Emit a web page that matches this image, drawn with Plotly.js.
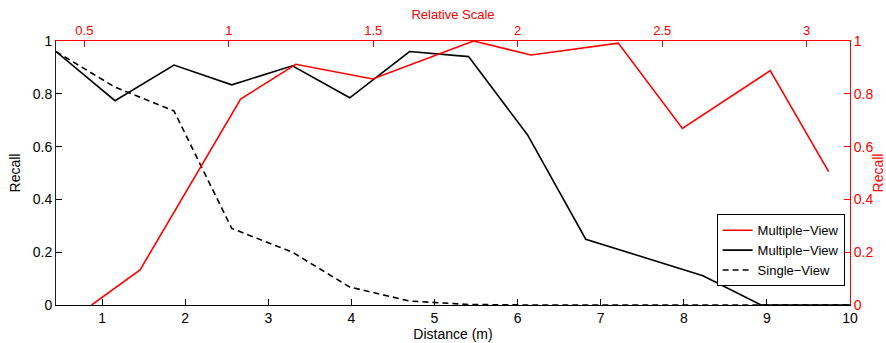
<!DOCTYPE html>
<html>
<head>
<meta charset="utf-8">
<script src="https://cdn.plot.ly/plotly-3.0.1.min.js"></script>
<style>
html, body { margin: 0; padding: 0; background: #fff; }
#chart { width: 886px; height: 343px; }
</style>
</head>
<body>
<div id="chart"></div>
<script>
// Bottom axis: distance (m)
var distMulti = [0.445, 1.155, 1.865, 2.56, 3.29, 3.98, 4.70, 5.41, 6.12, 6.82, 8.23, 8.93, 10];
var recallMultiBlack = [0.96, 0.774, 0.909, 0.834, 0.906, 0.785, 0.96, 0.941, 0.644, 0.249, 0.111, 0, 0];

var distSingle = [0.445, 1.155, 1.865, 2.56, 3.29, 3.98, 4.70, 5.41, 6.12, 10];
var recallSingle = [0.96, 0.825, 0.735, 0.29, 0.2, 0.068, 0.015, 0.002, 0, 0];

// Top axis: relative scale
var relScale = [0.525, 0.693, 1.041, 1.232, 1.498, 1.847, 2.046, 2.348, 2.57, 2.874, 3.076];
var recallMultiRed = [0, 0.133, 0.78, 0.912, 0.856, 1.0, 0.947, 0.992, 0.669, 0.888, 0.505];

var yTicks = [0, 0.2, 0.4, 0.6, 0.8, 1];
var yTickText = ['0', '0.2', '0.4', '0.6', '0.8', '1'];
var xTicks = [1, 2, 3, 4, 5, 6, 7, 8, 9, 10];
var x2Ticks = [0.5, 1, 1.5, 2, 2.5, 3];
var x2TickText = ['0.5', '1', '1.5', '2', '2.5', '3'];

var FONT = 'Liberation Sans, Arial, Helvetica, sans-serif';
var RED = '#ff0000';

var traces = [
  {
    x: relScale, y: recallMultiRed, xaxis: 'x2', yaxis: 'y2',
    type: 'scatter', mode: 'lines', name: 'Multiple\u2212View',
    line: { color: RED, width: 1.6 }
  },
  {
    x: distMulti, y: recallMultiBlack, xaxis: 'x', yaxis: 'y',
    type: 'scatter', mode: 'lines', name: 'Multiple\u2212View',
    line: { color: '#000', width: 1.6 }
  },
  {
    x: distSingle, y: recallSingle, xaxis: 'x', yaxis: 'y',
    type: 'scatter', mode: 'lines', name: 'Single\u2212View',
    line: { color: '#000', width: 1.6, dash: '6px,4px' }
  }
];

var layout = {
  width: 886, height: 343,
  margin: { l: 56, r: 36, t: 41, b: 38, pad: 0 },
  paper_bgcolor: '#fff', plot_bgcolor: '#fff',
  font: { family: FONT, size: 14, color: '#000' },
  showlegend: true,
  legend: {
    x: 0.832, y: 0.3436, xanchor: 'left', yanchor: 'top',
    bgcolor: '#fff', bordercolor: '#000', borderwidth: 1,
    font: { family: FONT, size: 13, color: '#000' },
    tracegroupgap: 0
  },
  xaxis: {
    range: [0.445, 10], tickvals: xTicks, ticktext: xTicks.map(String),
    ticks: 'inside', ticklen: 6, tickcolor: '#000', tickwidth: 1,
    showline: true, linecolor: '#000', linewidth: 1,
    showgrid: false, zeroline: false, mirror: false,
    tickfont: { family: FONT, size: 14, color: '#000' },
    title: { text: 'Distance (m)', font: { family: FONT, size: 14, color: '#000' }, standoff: 2 }
  },
  xaxis2: {
    overlaying: 'x', side: 'top', anchor: 'y2',
    range: [0.402, 3.15], tickvals: x2Ticks, ticktext: x2TickText,
    ticks: 'inside', ticklen: 6, tickcolor: RED, tickwidth: 1,
    showline: true, linecolor: RED, linewidth: 1,
    showgrid: false, zeroline: false,
    tickfont: { family: FONT, size: 13, color: RED },
    title: { text: 'Relative Scale', font: { family: FONT, size: 13, color: RED }, standoff: 0 }
  },
  yaxis: {
    range: [0, 1], tickvals: yTicks, ticktext: yTickText,
    ticks: 'inside', ticklen: 6, tickcolor: '#000', tickwidth: 1,
    showline: true, linecolor: '#222', linewidth: 1,
    showgrid: false, zeroline: false,
    tickfont: { family: FONT, size: 14, color: '#000' },
    title: { text: 'Recall', font: { family: FONT, size: 14, color: '#000' }, standoff: 8 }
  },
  yaxis2: {
    overlaying: 'y', side: 'right', anchor: 'x',
    range: [0, 1], tickvals: yTicks, ticktext: yTickText,
    ticks: 'inside', ticklen: 6, tickcolor: RED, tickwidth: 1,
    showline: true, linecolor: RED, linewidth: 1,
    showgrid: false, zeroline: false,
    tickfont: { family: FONT, size: 14, color: RED },
    title: { text: 'Recall', font: { family: FONT, size: 14, color: RED }, standoff: 5 }
  }
};

Plotly.newPlot('chart', traces, layout, { displayModeBar: false, staticPlot: true });
</script>
</body>
</html>
